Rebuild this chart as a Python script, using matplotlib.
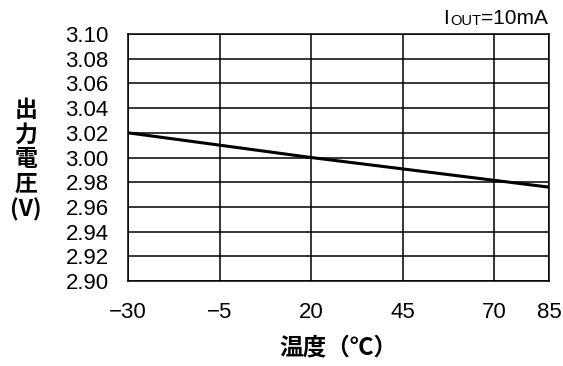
import matplotlib
matplotlib.use("Agg")
import matplotlib.pyplot as plt

# data
temps = [-30, 20, 85]
vout = [3.020, 3.000, 2.976]
xticks = [-30, -5, 20, 45, 70, 85]
xlabels = ["\u221230", "\u22125", "20", "45", "70", "85"]
yticks = [2.90, 2.92, 2.94, 2.96, 2.98, 3.00, 3.02, 3.04, 3.06, 3.08, 3.10]

plt.rcParams['font.family'] = ['Liberation Sans', 'Noto Sans CJK JP', 'DejaVu Sans']

fig = plt.figure(figsize=(5.63, 3.66), dpi=100)
ax = fig.add_axes([128 / 563, 85 / 366, 421 / 563, 247 / 366])

ax.plot(temps, vout, color="black", lw=2.2, solid_capstyle="butt", zorder=3)

ax.set_xlim(-30, 85)
ax.set_ylim(2.90, 3.10)
ax.set_xticks(xticks)
ax.set_xticklabels(xlabels)
ax.set_yticks(yticks)
ax.set_yticklabels(["%.2f" % v for v in yticks])
ax.tick_params(length=0, labelsize=16, colors="black")
ax.tick_params(axis="y", pad=14)
ax.tick_params(axis="x", pad=15)
ax.grid(True, color="black", lw=1.1)
for s in ax.spines.values():
    s.set_linewidth(1.1)
    s.set_color("black")

ax.set_xlabel("温度（℃）", family=['Noto Sans CJK JP'], fontweight="bold",
              fontsize=17, labelpad=9)
fig.text(26 / 563, 1 - 160 / 366, "出\n力\n電\n圧\n(V)", family=['Noto Sans CJK JP'],
         fontweight="bold", fontsize=16.5, ha="center", va="center", linespacing=1.1)

# I_OUT=10mA with small-caps OUT, right edge on the axes' right edge
a = fig.text(440 / 563, 1 - 24 / 366, "I", fontsize=15, ha="left", va="baseline")
b = ax.annotate("OUT", xy=(1, 0), xycoords=a, fontsize=10.5, va="bottom",
                xytext=(0.8, 0), textcoords="offset points", annotation_clip=False)
c = ax.annotate("=10mA", xy=(1, 0), xycoords=b, fontsize=15, va="bottom",
                annotation_clip=False)
fig.canvas.draw()
r = fig.canvas.get_renderer()
shift = 548 - c.get_window_extent(r).x1
a.set_x(a.get_position()[0] + shift / 563)

fig.savefig("out.png", dpi=100)
